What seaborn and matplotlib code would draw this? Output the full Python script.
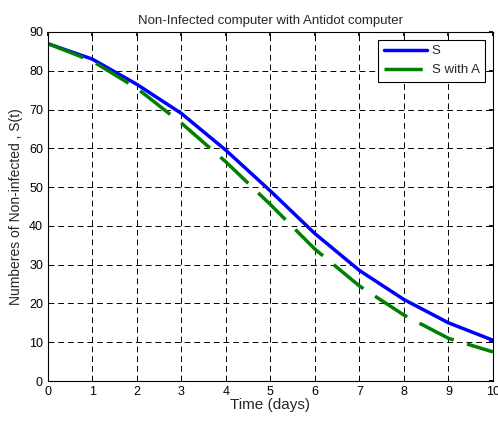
import matplotlib
matplotlib.use("Agg")
import matplotlib.pyplot as plt
import pandas as pd
import seaborn as sns

time_days = [0, 1, 2, 3, 4, 5, 6, 7, 8, 9, 10]
s_values = [87, 83, 76.5, 69, 59.5, 49, 38, 28.5, 21, 15, 10.5]
s_with_a_values = [87, 82.5, 75.5, 66.5, 56.5, 45.5, 34, 24.5, 17, 11, 7.5]

df = pd.concat([
    pd.DataFrame({"t": time_days, "value": s_values, "series": "S"}),
    pd.DataFrame({"t": time_days, "value": s_with_a_values, "series": "S with A"}),
])

sns.set_theme(style="white")
plt.rcParams["font.family"] = ["Liberation Sans", "DejaVu Sans"]

fig = plt.figure(figsize=(4.98, 4.21), dpi=100)
ax = fig.add_axes([0.096, 0.095, 0.894, 0.829])

sns.lineplot(data=df[df["series"] == "S"], x="t", y="value", color="#0000ff",
             linewidth=2.5, ax=ax, label="S")
sns.lineplot(data=df[df["series"] == "S with A"], x="t", y="value", color="#007f00",
             linewidth=2.5, linestyle=(0, (11, 4)), ax=ax, label="S with A")

ax.set_xlim(0, 10)
ax.set_ylim(0, 90)
ax.set_xticks(range(0, 11))
ax.set_yticks(range(0, 91, 10))
ax.grid(True, color="black", linestyle=(0, (6, 4)), linewidth=0.7)
ax.tick_params(direction="in", length=3, labelsize=9, colors="black", top=True, right=True)
for sp in ax.spines.values():
    sp.set_color("black")
    sp.set_linewidth(0.8)

ax.set_title("Non-Infected computer with Antidot computer", fontsize=9.5, pad=6)
ax.set_xlabel("Time (days)", fontsize=11, labelpad=0)
ax.set_ylabel("Numberes of Non-infected , S(t)", fontsize=10, labelpad=4)

leg = ax.legend(loc="upper right", fontsize=9.5, fancybox=False, framealpha=1,
                edgecolor="black", handlelength=3.3, handletextpad=0.35,
                borderaxespad=0.6)
leg.get_frame().set_linewidth(0.8)

fig.savefig("out.png", dpi=100)
